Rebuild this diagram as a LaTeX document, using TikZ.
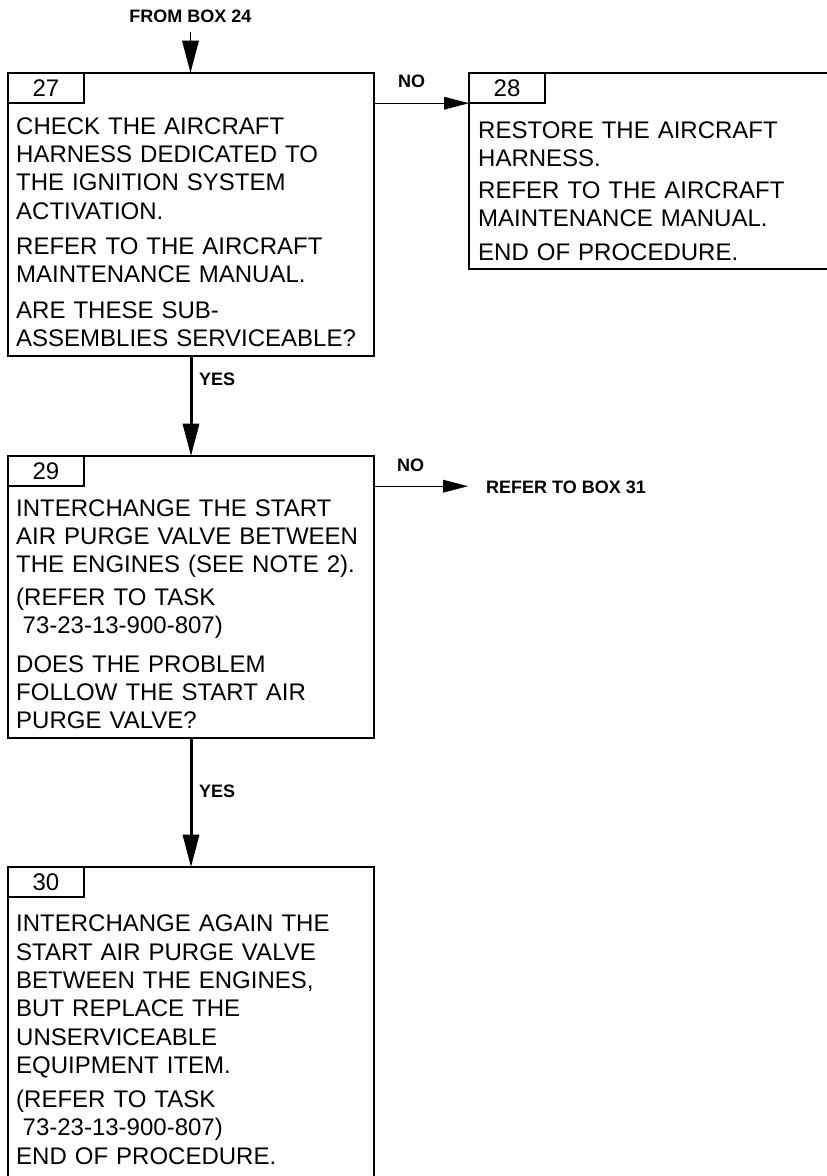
\documentclass[tikz,border=0pt]{standalone}
\usepackage{fontspec}
\setmainfont{Liberation Sans}
\usetikzlibrary{arrows.meta}
\begin{document}
\begin{tikzpicture}[x=1pt,y=-1pt,
  box/.style={draw, line width=1.8pt, rectangle, inner sep=0pt, outer sep=0pt, anchor=north west},
  tabbox/.style={draw, line width=1.8pt, rectangle, inner sep=0pt, outer sep=0pt, anchor=north west,
    minimum width=76pt, minimum height=30.5pt, font=\fontsize{24}{28.4}\selectfont},
  body/.style={inner sep=0pt, anchor=base west, align=left, text width=355pt,
    font=\fontsize{24}{28.4}\selectfont},
  lbl/.style={inner sep=0pt, font=\bfseries\fontsize{18}{21}\selectfont},
  bigarrow/.style={line width=3pt, -{Triangle[length=32pt,width=17pt,line width=0pt]}},
  thinarrow/.style={line width=1.3pt, -{Triangle[length=32pt,width=17pt,line width=0pt]}},
  noarrow/.style={line width=1.3pt, -{Triangle[length=25pt,width=13pt,line width=0pt]}},
]
\useasboundingbox (0,0) rectangle (827,1176);
\clip (0,0) rectangle (827,1176);

% boxes
\node[box, minimum width=366pt, minimum height=283.3pt] (b27) at (8,72.7) {};
\node[box, minimum width=400pt, minimum height=196.3pt] (b28) at (469,72.7) {};
\node[box, minimum width=366pt, minimum height=282.3pt] (b29) at (8,455.7) {};
\node[box, minimum width=366pt, minimum height=400pt] (b30) at (8,866.7) {};

% number tabs
\node[tabbox] (n27) at (b27.north west) {27};
\node[tabbox] (n28) at (b28.north west) {28};
\node[tabbox] (n29) at (b29.north west) {29};
\node[tabbox] (n30) at (b30.north west) {30};

% box 27 text
\node[body] (t27a) at (16,134) {CHECK THE AIRCRAFT\\HARNESS DEDICATED TO\\THE IGNITION SYSTEM\\ACTIVATION.};
\node[body] (t27b) at (16,254) {REFER TO THE AIRCRAFT\\MAINTENANCE MANUAL.};
\node[body] (t27c) at (16,318) {ARE THESE SUB-\\ASSEMBLIES SERVICEABLE?};

% box 28 text
\node[body, text width=340pt] (t28a) at (478,138.3) {RESTORE THE AIRCRAFT\\HARNESS.};
\node[body, text width=340pt] (t28b) at (478,198.3) {REFER TO THE AIRCRAFT\\MAINTENANCE MANUAL.};
\node[body, text width=340pt] (t28c) at (478,260) {END OF PROCEDURE.};

% box 29 text
\node[body] (t29a) at (16,516) {INTERCHANGE THE START\\AIR PURGE VALVE BETWEEN\\THE ENGINES (SEE NOTE 2).};
\node[body] (t29b) at (16,605) {(REFER TO TASK\\\hspace*{6.5pt}73-23-13-900-807)};
\node[body] (t29c) at (16,672) {DOES THE PROBLEM\\FOLLOW THE START AIR\\PURGE VALVE?};

% box 30 text
\node[body] (t30a) at (16,931.7) {INTERCHANGE AGAIN THE\\START AIR PURGE VALVE\\BETWEEN THE ENGINES,\\BUT REPLACE THE\\UNSERVICEABLE\\EQUIPMENT ITEM.};
\node[body] (t30b) at (16,1107) {(REFER TO TASK\\\hspace*{6.5pt}73-23-13-900-807)};
\node[body] (t30c) at (16,1164) {END OF PROCEDURE.};

% labels
\node[lbl, anchor=base] (from) at (190.5,22.7) {FROM BOX 24};
\node[lbl, anchor=base west] (no27) at (398,87) {NO};
\node[lbl, anchor=base west] (no29) at (397,471.7) {NO};
\node[lbl, anchor=base west] (yes27) at (199,385) {YES};
\node[lbl, anchor=base west] (yes29) at (199,797) {YES};
\node[lbl, anchor=base west] (ref31) at (486,493.3) {REFER TO BOX 31};
\coordinate (r31in) at ([xshift=-18pt]ref31.west);

% connectors
\draw[thinarrow] ([yshift=-9pt]from.south) -- (from.south |- b27.north);
\draw[bigarrow] (b27.south) -- (b29.north);
\draw[bigarrow] (b29.south) -- (b30.north);
\draw[noarrow] (b27.east |- n27.south) -- (b28.west |- n27.south);
\draw[noarrow] (b29.east |- n29.south) -- (r31in |- n29.south);
\end{tikzpicture}
\end{document}
